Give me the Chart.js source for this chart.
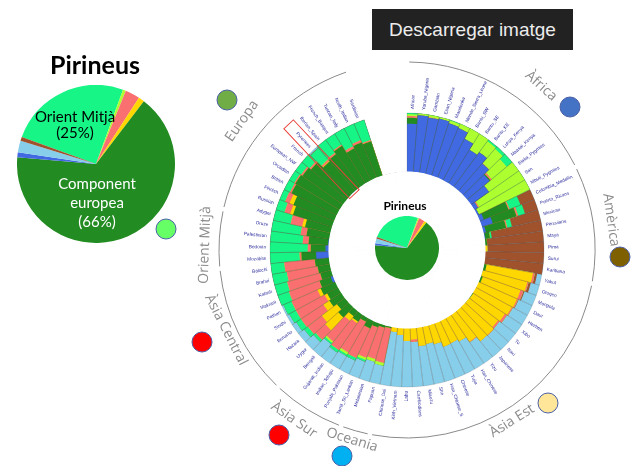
<!DOCTYPE html>
<html><head><meta charset="utf-8">
<script src="https://cdn.jsdelivr.net/npm/chart.js@4"></script>
<style>
body{margin:0;width:632px;height:466px;position:relative;background:#fff;overflow:hidden}
canvas{position:absolute}
.t{position:absolute;text-align:center;color:#000}
</style></head><body>
<canvas id="main" width="632" height="466" style="left:0;top:0"></canvas>
<div class="t" style="left:0;top:50px;width:190px;font:bold 25px Lato;line-height:28px">Pirineus</div>
<canvas id="pieL" width="158" height="158" style="left:17px;top:85px"></canvas>
<div class="t" style="left:365px;top:199px;width:80px;font:bold 12px Lato;line-height:14px">Pirineus</div>
<canvas id="pieC" width="64" height="64" style="left:375px;top:216px"></canvas>
<div style="position:absolute;left:372px;top:9px;width:201px;height:41px;background:#222;color:#ececec;font:19px 'Liberation Sans',Arial;display:flex;align-items:center;justify-content:center">Descarregar imatge</div>
<script>
// ---------- data ----------
const populations = ['African','Yoruba_Nigeria','Gambian','Esan_Nigeria','Mandenka','Mende_Sierra_Leone','Bantu_SW','Bantu_SE','Bantu_KE','Luhya_Kenya','Maasai_Kenya','Biaka_Pygmies','San','Mbuti_Pygmies',
'Colombia_Medellin','Puerto_Ricans','Mexican','Peruvians','Maya','Pima','Surui','Karitiana',
'Yakut','Oroqen','Mongola','Daur','Hezhen','Xibo','Tu','Naxi','Japanese','Yizu','Han_Chinese','Tujia','Chinese','Han_Chinese_S','She','Miaozu','Cambodians','Lahu','Kinh_Vietnam','Chinese_Dai',
'Papuan','Melanesian',
'Tamil_Sri_Lankan','Punjabi_Pakistan','Indian_Telugu','Gujarati_Indian','Bengali',
'Uygur','Hazara','Burusho','Sindhi','Pathan','Makrani','Kalash','Brahui','Balochi',
'Mozabite','Bedouin','Palestinian','Druze',
'Adygei','Russian','Finnish','British','Orcadian','European_NW','French','Pyrenees','Iberian_Spain','French_Basque','Tuscan_Italy','North_Italian','Sardinian'];
const regionNames = ['Àfrica','Amèrica','Àsia Est','Oceania','Àsia Sur','Àsia Central','Orient Mitjà','Europa'];
const regionCounts = [14,8,20,2,5,9,4,13];
const gapSlots = 4;
// ancestry components (inner -> outer)
const africanBlue = [.82,.97,.95,.97,.94,.92,.80,.68,.74,.62,.50,.38,.08,.04, .08,.20,.05,.02,0,0,0,0, 0,0,0,0,0,0,0,0,0,0,0,0,0,0,0,0,0,0,0,0, 0,0, 0,0,0,0,0, 0,0,0,0,0,.05,0,0,0, .22,.06,.02,0, 0,0,0,0,0,0,0,.01,0,0,0,0,0];
const europeanGreen = [.10,0,0,0,0,0,0,0,0,0,.02,0,0,0, .45,.42,.35,.08,.04,0,0,0, .05,.01,.04,0,0,.02,.01,0,0,0,0,0,0,0,0,0,0,0,0,0, .03,.05, .08,.15,.08,.15,.12, .25,.18,.25,.22,.28,.20,.20,.22,.25, .25,.25,.33,.40, .45,.70,.75,.86,.88,.85,.80,.66,.70,.76,.62,.66,.62];
const eastAsiaYellow = [0,0,0,0,0,0,0,0,0,0,0,0,0,0, 0,0,0,0,0,.04,0,0, .80,.78,.68,.72,.70,.64,.62,.66,.66,.56,.46,.42,.43,.34,.30,.32,.20,.22,.12,.08, 0,0, 0,0,0,.03,.10, .30,.32,.12,.05,.06,0,0,0,0, 0,0,0,0, .05,.05,.07,0,0,0,0,.01,0,0,0,0,0];
const southAsiaRed = [.03,0,.01,0,0,0,0,0,0,.01,.03,0,.02,0, .02,.03,.02,0,0,0,0,0, .03,.02,.05,.02,.02,.04,.03,.01,0,.01,0,0,0,0,0,0,.04,0,0,0, .60,.55, .55,.55,.60,.55,.45, .22,.30,.45,.55,.48,.55,.58,.53,.52, .03,.05,.10,.10, .20,.10,.08,.03,.02,.03,.03,.03,.03,.02,.04,.04,.02];
const sanYellowGreen = [.03,.03,.04,.03,.05,.08,.20,.32,.23,.32,.33,.62,.90,.96, 0,0,0,0,0,0,0,0, 0,0,0,0,0,0,0,0,0,0,0,0,0,0,0,0,0,0,0,0, .05,.05, .04,0,.04,0,.03, 0,0,0,0,0,0,0,0,0, 0,0,0,0, 0,0,0,0,0,0,0,.006,0,0,0,0,0];
const middleEastSpring = [.02,0,0,0,.01,0,0,0,.03,.05,.12,0,0,0, .20,.12,.08,.03,0,0,0,0, 0,0,0,0,0,0,0,0,0,0,0,0,0,0,0,0,0,0,0,0, 0,0, .03,.05,.03,.05,.03, .05,.08,.10,.13,.15,.20,.22,.25,.23, .50,.64,.55,.50, .30,.15,.10,.11,.10,.12,.17,.25,.27,.22,.34,.30,.36];
const americanBrown = [0,0,0,0,0,0,0,0,0,0,0,0,0,0, .25,.23,.50,.87,.96,.96,1,1, .04,.04,.02,.01,0,0,0,0,0,0,0,0,0,0,0,0,0,0,0,0, 0,0, 0,0,0,0,0, 0,0,0,0,0,0,0,0,0, 0,0,0,0, 0,0,0,0,0,0,0,.008,0,0,0,0,0];
const southEastSky = [0,0,0,0,0,0,0,0,0,0,0,0,0,0, 0,0,0,0,0,0,0,0, .08,.15,.21,.25,.28,.30,.34,.33,.34,.43,.54,.58,.57,.66,.70,.68,.76,.78,.88,.92, .32,.35, .30,.25,.25,.22,.27, .18,.12,.08,.05,.03,0,0,0,0, 0,0,0,0, 0,0,0,0,0,0,0,.024,0,0,0,0,0];
const componentSeries = [africanBlue, europeanGreen, eastAsiaYellow, southAsiaRed, sanYellowGreen, middleEastSpring, americanBrown, southEastSky];
const componentColors = ['#4169E1','#228B22','#FFD700','#FA7070','#ADFF2F','#16F585','#A0522D','#87CEEB'];
// Pirineus pie
const pieLabels = ['Orient Mitjà','Àfrica (San)','Àsia Sud','Àsia Est','Component europea','Àfrica','Sud-est asiàtic','Amèrica'];
const pieValues = [25, 0.6, 3, 1.2, 66, 1, 2.4, 0.8];
const pieColors = ['#16F585','#ADFF2F','#FA7070','#FFD700','#228B22','#4169E1','#87CEEB','#A0522D'];

// ---------- radial structure chart ----------
const labelsAll = populations.concat(Array(gapSlots).fill(''));
const N = populations.length;
const sums = populations.map((_, i) => componentSeries.reduce((a, s) => a + s[i], 0));
const datasets = [];
datasets.push({label:'hole', data: labelsAll.map(() => 0), backgroundColor:'#ffffff', borderColor:'#ffffff', borderWidth:1.2, order:0});
datasets.push({label:'sep', data: labelsAll.map((_, i) => i < N ? 1 : 0), backgroundColor:'rgba(0,0,0,0)', borderColor:'rgba(70,70,70,0.35)', borderWidth:0.5, order:1});
let cum = populations.map(() => 0);
componentSeries.forEach((s, j) => {
  cum = cum.map((c, i) => c + s[i] / sums[i]);
  const vals = labelsAll.map((_, i) => i < N ? Math.min(1, cum[i]) : 0);
  datasets.push({label:'c'+j, data: vals, backgroundColor: componentColors[j], borderWidth:0, order: 2 + j});
});

const regionStyle = {
  'Àfrica':      {x:541, y:86,  rot:42,  dot:[570,107], col:'#4472C4'},
  'Amèrica':     {x:611, y:220, rot:82,  dot:[620,257], col:'#7F6000'},
  'Àsia Est':    {x:512, y:421, rot:-32, dot:[548,403], col:'#FFE699'},
  'Oceania':     {x:352, y:440, rot:17,  dot:[342,456], col:'#00B0F0'},
  'Àsia Sur':    {x:294, y:420, rot:35,  dot:[279,435], col:'#FF0000'},
  'Àsia Central':{x:226, y:330, rot:63,  dot:[202,342], col:'#FF0000'},
  'Orient Mitjà':{x:205, y:245, rot:-88, dot:[166,229], col:'#66FF66'},
  'Europa':      {x:242, y:121, rot:-55, dot:[227,100], col:'#70AD47'}
};

const decor = {
  id:'decor',
  afterDatasetsDraw(chart){
    const ctx = chart.ctx, s = chart.scales.r;
    const cx = s.xCenter, cy = s.yCenter, R = s.drawingArea;
    const step = 2*Math.PI/chart.data.labels.length;
    ctx.save();
    // population labels
    ctx.font = '4.7px "Liberation Sans", Arial';
    ctx.fillStyle = '#2b2b9c';
    ctx.textBaseline = 'middle';
    populations.forEach((name, i) => {
      const th = (i + 0.5) * step, a = th - Math.PI/2, r = R + 4;
      ctx.save();
      ctx.translate(cx + r*Math.cos(a), cy + r*Math.sin(a));
      if (th < Math.PI) { ctx.rotate(a); ctx.textAlign = 'left'; }
      else { ctx.rotate(a + Math.PI); ctx.textAlign = 'right'; }
      ctx.fillText(name, 0, 0);
      ctx.restore();
    });
    // region arcs
    ctx.strokeStyle = '#8a8a8a'; ctx.lineWidth = 1;
    let k = 0;
    const gap = 0.012;
    regionCounts.forEach(c => {
      const a0 = k*step - Math.PI/2 + gap, a1 = (k + c)*step - Math.PI/2 - gap;
      ctx.beginPath(); ctx.arc(cx, cy, R + 51, a0, a1); ctx.stroke();
      k += c;
    });
    // highlight box around Pyrenees
    const pi = populations.indexOf('Pyrenees');
    const thp = (pi + 0.5)*step - Math.PI/2;
    ctx.save();
    ctx.translate(cx, cy); ctx.rotate(thp);
    ctx.strokeStyle = '#E8403A'; ctx.lineWidth = 1;
    ctx.strokeRect(R*0.56, -6.5, R*0.7, 13);
    ctx.restore();
    // region labels and dots
    ctx.font = '14px "Open Sans"';
    ctx.fillStyle = '#8c8c8c';
    ctx.textAlign = 'center'; ctx.textBaseline = 'middle';
    regionNames.forEach(n => {
      const st = regionStyle[n];
      ctx.save(); ctx.translate(st.x, st.y); ctx.rotate(st.rot*Math.PI/180);
      ctx.fillText(n, 0, 0); ctx.restore();
      ctx.beginPath(); ctx.arc(st.dot[0], st.dot[1], 10, 0, 2*Math.PI);
      ctx.fillStyle = st.col; ctx.fill();
      ctx.strokeStyle = '#4a5fa6'; ctx.lineWidth = 1; ctx.stroke();
      ctx.fillStyle = '#8c8c8c';
    });
    ctx.restore();
  }
};

new Chart(document.getElementById('main'), {
  type:'polarArea',
  data:{labels: labelsAll, datasets},
  options:{
    responsive:false, animation:false, devicePixelRatio:1,
    layout:{padding:{left:270, right:88, top:113, bottom:79}},
    scales:{r:{display:false, min:-1.32, max:1, startAngle:0}},
    plugins:{legend:{display:false}, tooltip:{enabled:false}},
    events:[]
  },
  plugins:[decor]
});

const pieText = {
  id:'pieText',
  afterDatasetsDraw(chart){
    const ctx = chart.ctx, arc = chart.getDatasetMeta(0).data[0];
    const x = arc.x, y = arc.y;
    ctx.save();
    ctx.font = '15px Lato'; ctx.textAlign = 'center'; ctx.textBaseline = 'middle';
    ctx.fillStyle = '#000';
    ctx.fillText(pieLabels[0], x - 21, y - 47);
    ctx.fillText('(' + pieValues[0] + '%)', x - 21, y - 31);
    ctx.fillStyle = '#fff';
    ctx.fillText('Component', x + 1, y + 20);
    ctx.fillText('europea', x + 1, y + 39);
    ctx.fillText('(' + pieValues[4] + '%)', x + 1, y + 58);
    ctx.restore();
  }
};
function pie(id, withText){
  return new Chart(document.getElementById(id), {
    type:'pie',
    data:{labels: pieLabels, datasets:[{data: pieValues, backgroundColor: pieColors, borderWidth:0}]},
    options:{responsive:false, animation:false, devicePixelRatio:1, rotation:-70,
      layout:{padding:0}, plugins:{legend:{display:false}, tooltip:{enabled:false}}, events:[]},
    plugins: withText ? [pieText] : []
  });
}
pie('pieL', true);
pie('pieC', false);
</script>
</body></html>
